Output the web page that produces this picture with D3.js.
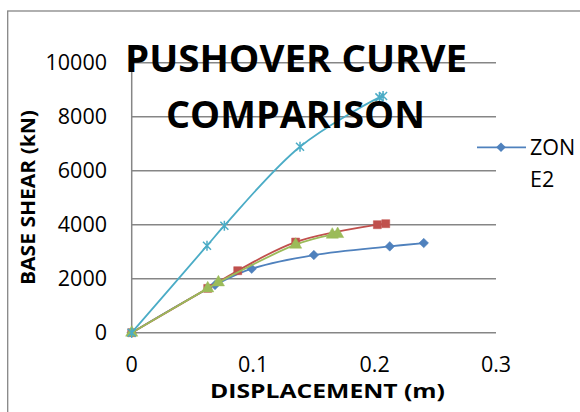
<!DOCTYPE html>
<html>
    <head>
        <meta charset="utf-8">
        <title>Pushover curve comparison</title>
        <style>
            body { margin: 0; background: #fff; }
            svg { display: block; font-family: "Open Sans", sans-serif; }
        </style>
    </head>
    <body>
        <svg id="chart" width="580" height="412"></svg>

        <script src="https://d3js.org/d3.v7.min.js"></script>
        <script>
            // valores
            const xTicks = [0, 0.1, 0.2, 0.3];
            const yTicks = [0, 2000, 4000, 6000, 8000, 10000];

            const zone2X = [0, 0.0686, 0.0988, 0.150, 0.2125, 0.2405];
            const zone2Y = [0, 1765, 2370, 2876, 3197, 3321];

            const redX = [0, 0.0626, 0.0873, 0.135, 0.2023, 0.2092];
            const redY = [0, 1642, 2296, 3358, 4000, 4037];

            const greenX = [0, 0.0626, 0.0714, 0.135, 0.1652, 0.1696];
            const greenY = [0, 1642, 1864, 3259, 3630, 3654];

            const cyanX = [0, 0.062, 0.0763, 0.1386, 0.204, 0.207];
            const cyanY = [0, 3222, 3963, 6889, 8716, 8765];

            const series = [
                { name: "ZONE2", xs: zone2X, ys: zone2Y, color: "#4F81BD", marker: "diamond" },
                { name: "s2", xs: redX, ys: redY, color: "#C0504D", marker: "square" },
                { name: "s3", xs: greenX, ys: greenY, color: "#9BBB59", marker: "triangle" },
                { name: "s5", xs: cyanX, ys: cyanY, color: "#4BACC6", marker: "star" }
            ];

            const svg = d3.select("#chart");

            const x = d3.scaleLinear().domain([0, 0.3]).range([131.7, 496]);
            const y = d3.scaleLinear().domain([0, 10000]).range([332.7, 62.7]);

            // borda da área do gráfico
            svg.append("rect")
                .attr("x", 7.7).attr("y", 11)
                .attr("width", 640).attr("height", 460)
                .attr("fill", "none")
                .attr("stroke", "#868686")
                .attr("stroke-width", 1.3);

            // linhas de grade
            svg.append("g")
                .selectAll("line")
                .data(yTicks)
                .join("line")
                  .attr("x1", x(0)).attr("x2", x(0.3))
                  .attr("y1", d => y(d)).attr("y2", d => y(d))
                  .attr("stroke", "#868686")
                  .attr("stroke-width", 1.5);

            svg.append("line")
                .attr("x1", x(0)).attr("x2", x(0))
                .attr("y1", y(10000)).attr("y2", y(0))
                .attr("stroke", "#868686")
                .attr("stroke-width", 1.5);

            // rótulos dos eixos
            svg.append("g")
                .selectAll("text")
                .data(yTicks)
                .join("text")
                  .attr("x", 107)
                  .attr("y", d => y(d))
                  .attr("dy", "0.36em")
                  .attr("text-anchor", "end")
                  .attr("font-size", 21.5)
                  .text(d => d);

            svg.append("g")
                .selectAll("text")
                .data(xTicks)
                .join("text")
                  .attr("x", d => x(d))
                  .attr("y", 371.5)
                  .attr("text-anchor", "middle")
                  .attr("font-size", 21.5)
                  .text(d => d);

            svg.append("text")
                .attr("x", 327.5).attr("y", 398)
                .attr("text-anchor", "middle")
                .attr("font-size", 20)
                .attr("font-weight", "bold")
                .attr("textLength", 235)
                .attr("lengthAdjust", "spacingAndGlyphs")
                .text("DISPLACEMENT (m)");

            svg.append("text")
                .attr("transform", "translate(35,197.5) rotate(-90)")
                .attr("text-anchor", "middle")
                .attr("font-size", 20)
                .attr("font-weight", "bold")
                .attr("textLength", 175)
                .attr("lengthAdjust", "spacingAndGlyphs")
                .text("BASE SHEAR (kN)");

            // séries
            const line = d3.line().curve(d3.curveCatmullRom.alpha(0.5));

            const markerPath = {
                diamond: "M0,-4.8L4.8,0L0,4.8L-4.8,0Z",
                square: d3.symbol(d3.symbolSquare, 64)(),
                triangle: d3.symbol(d3.symbolTriangle, 64)(),
                star: "M-4,-4L4,4M-4,4L4,-4M0,-5L0,5"
            };

            series.forEach(s => {
                const pts = s.xs.map((v, i) => [x(v), y(s.ys[i])]);
                svg.append("path")
                    .attr("d", line(pts))
                    .attr("fill", "none")
                    .attr("stroke", s.color)
                    .attr("stroke-width", 1.8);

                svg.append("g")
                    .selectAll("path")
                    .data(pts)
                    .join("path")
                      .attr("transform", d => `translate(${d[0]},${d[1]})`)
                      .attr("d", markerPath[s.marker])
                      .attr("fill", s.marker === "star" ? "none" : s.color)
                      .attr("stroke", s.color)
                      .attr("stroke-width", s.marker === "star" ? 1.5 : 0.5);
            });

            // título
            const title = svg.append("g")
                .attr("font-weight", "bold")
                .attr("font-size", 37)
                .attr("text-anchor", "middle");

            title.append("text")
                .attr("x", 296).attr("y", 71.7)
                .attr("textLength", 342)
                .attr("lengthAdjust", "spacingAndGlyphs")
                .text("PUSHOVER CURVE");

            title.append("text")
                .attr("x", 295.5).attr("y", 128)
                .attr("textLength", 259)
                .attr("lengthAdjust", "spacingAndGlyphs")
                .text("COMPARISON");

            // legenda
            const legend = svg.append("g");
            legend.append("line")
                .attr("x1", 477).attr("x2", 526)
                .attr("y1", 147.3).attr("y2", 147.3)
                .attr("stroke", series[0].color)
                .attr("stroke-width", 1.8);
            legend.append("path")
                .attr("transform", "translate(501,147.3)")
                .attr("d", markerPath.diamond)
                .attr("fill", series[0].color);
            legend.append("text")
                .attr("x", 530).attr("y", 155)
                .attr("font-size", 21.5)
                .text("ZON");
            legend.append("text")
                .attr("x", 530).attr("y", 186.5)
                .attr("font-size", 21.5)
                .text("E2");
        </script>
    </body>
</html>
